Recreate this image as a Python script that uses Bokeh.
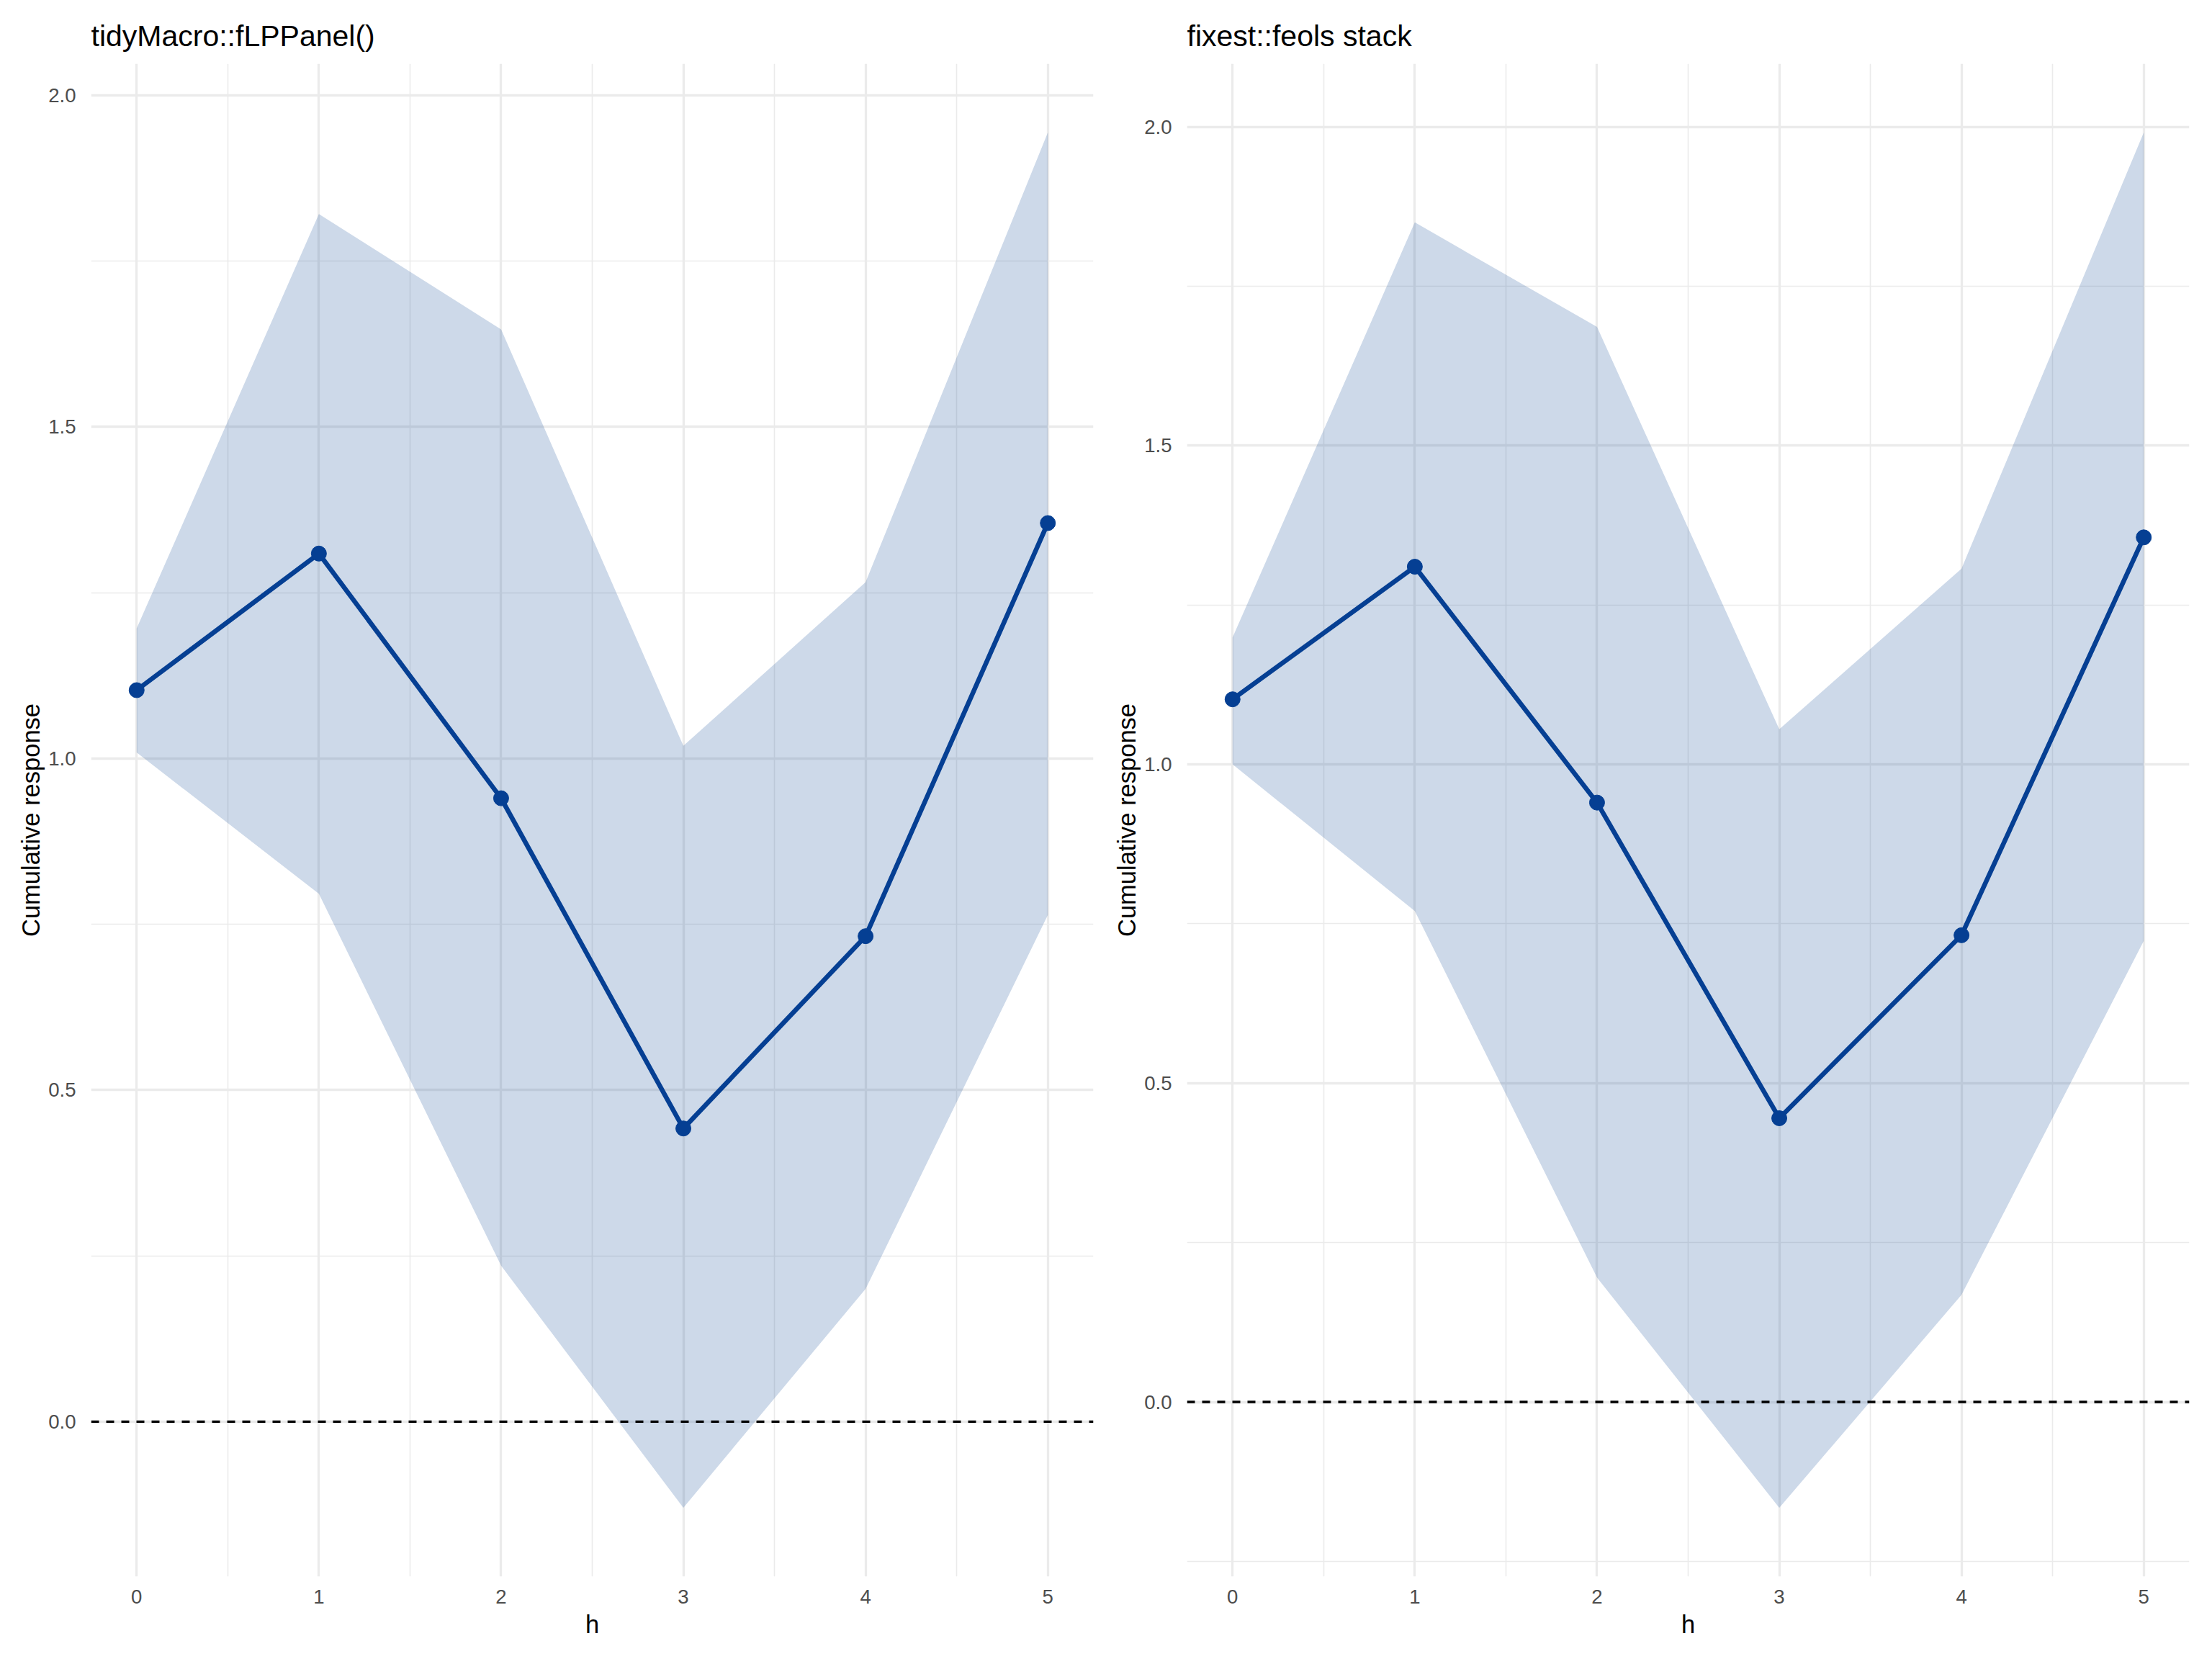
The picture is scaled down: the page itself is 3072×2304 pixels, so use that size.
from bokeh.plotting import figure
from bokeh.layouts import row
from bokeh.models import Range1d, FixedTicker, PrintfTickFormatter, Span
from bokeh.embed import file_html
from bokeh.resources import INLINE

# ---------------- data ----------------
h = [0, 1, 2, 3, 4, 5]

left_title = "tidyMacro::fLPPanel()"
left_est = [1.103, 1.309, 0.940, 0.442, 0.732, 1.355]
left_lower = [1.009, 0.796, 0.235, -0.130, 0.200, 0.764]
left_upper = [1.196, 1.821, 1.647, 1.019, 1.266, 1.944]

right_title = "fixest::feols stack"
right_est = [1.102, 1.310, 0.940, 0.445, 0.732, 1.356]
right_lower = [1.000, 0.770, 0.195, -0.166, 0.168, 0.723]
right_upper = [1.199, 1.850, 1.686, 1.055, 1.307, 1.991]

x_ticks = [0, 1, 2, 3, 4, 5]
x_minor = [0.5, 1.5, 2.5, 3.5, 4.5]
y_ticks = [0.0, 0.5, 1.0, 1.5, 2.0]
y_minor = [-0.25, 0.25, 0.75, 1.25, 1.75, 2.25]
zero_ref = 0.0

x_label = "h"
y_label = "Cumulative response"

# ---------------- style ----------------
LINE = "#053F93"
GRID = "#EBEBEB"
FONT = "Liberation Sans"


def make_panel(title, est, lower, upper, width, border_left, border_right):
    ylo, yhi = min(lower), max(upper)
    ypad = 0.05 * (yhi - ylo)
    xpad = 0.05 * (max(h) - min(h))
    p = figure(width=width, height=2288, output_backend="svg", toolbar_location=None,
               x_range=Range1d(min(h) - xpad, max(h) + xpad),
               y_range=Range1d(ylo - ypad, yhi + ypad),
               min_border_left=border_left, min_border_right=border_right,
               min_border_top=88, min_border_bottom=99)
    p.outline_line_color = None
    p.background_fill_color = "white"
    p.border_fill_color = "white"

    p.title.text = title
    p.title.text_font = FONT
    p.title.text_font_size = "41px"
    p.title.text_font_style = "normal"
    p.title.text_color = "black"
    p.title.align = "left"
    p.title.standoff = 31

    p.xaxis.ticker = FixedTicker(ticks=x_ticks, minor_ticks=x_minor)
    p.yaxis.ticker = FixedTicker(ticks=y_ticks, minor_ticks=y_minor)
    p.yaxis.formatter = PrintfTickFormatter(format="%.1f")
    p.xaxis.axis_label = x_label
    p.yaxis.axis_label = y_label

    for ax in (p.xaxis, p.yaxis):
        ax.axis_line_color = None
        ax.major_tick_line_color = None
        ax.minor_tick_line_color = None
        ax.major_tick_out = 0
        ax.major_tick_in = 0
        ax.major_label_text_font = FONT
        ax.major_label_text_font_size = "27.6px"
        ax.major_label_text_color = "#4D4D4D"
        ax.axis_label_text_font = FONT
        ax.axis_label_text_font_size = "34.5px"
        ax.axis_label_text_font_style = "normal"
        ax.axis_label_text_color = "black"
    p.xaxis.major_label_standoff = 14
    p.xaxis.axis_label_standoff = 7
    p.yaxis.major_label_standoff = 17
    p.yaxis.axis_label_standoff = 2

    for g in (p.xgrid, p.ygrid):
        g.grid_line_color = GRID
        g.grid_line_width = 3.3
        g.minor_grid_line_color = GRID
        g.minor_grid_line_width = 1.6

    p.varea(x=h, y1=lower, y2=upper, fill_color=LINE, fill_alpha=0.2)
    p.add_layout(Span(location=zero_ref, dimension="width", line_color="black",
                      line_width=3.3, line_dash="11 10"))
    p.line(h, est, line_color=LINE, line_width=6.5)
    p.scatter(h, est, size=21, fill_color=LINE, line_color=LINE)
    return p


p1 = make_panel(left_title, left_est, left_lower, left_upper, 1536, 126, 18)
p2 = make_panel(right_title, right_est, right_lower, right_upper, 1520, 112, 16)
layout = row(p1, p2)

open("out.html", "w").write(file_html(layout, INLINE))
